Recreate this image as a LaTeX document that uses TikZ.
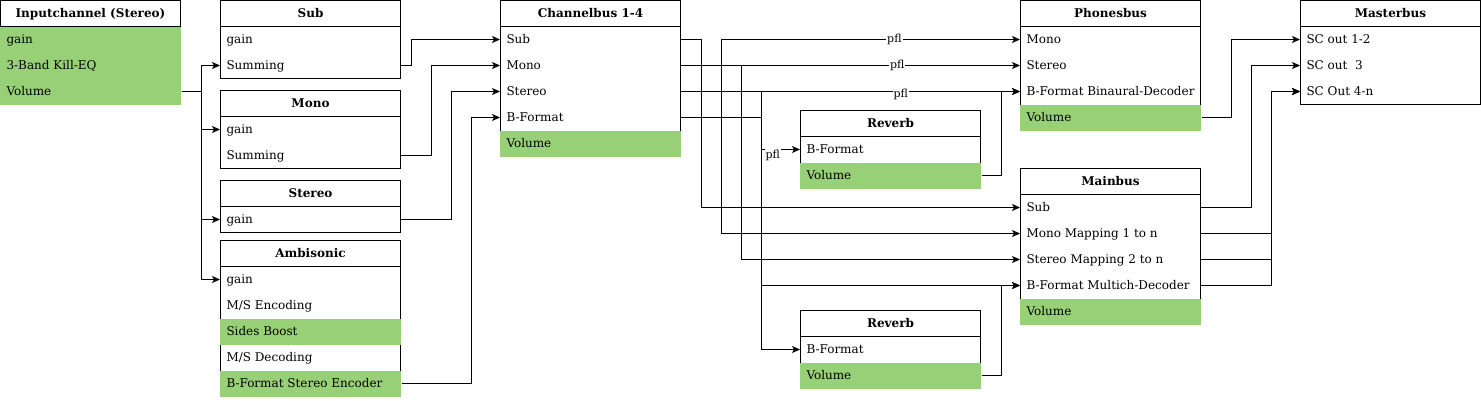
\documentclass[tikz,border=0pt]{standalone}
\usepackage{fontspec}
\setmainfont{DejaVu Serif}
\usetikzlibrary{arrows.meta}
\definecolor{volgreen}{HTML}{97D077}

\begin{document}
\begin{tikzpicture}[x=1pt, y=-1pt, line width=1pt,
  head/.style={draw, anchor=north west, minimum width=180pt, minimum height=26pt,
    inner sep=0pt, font=\fontsize{12}{14}\selectfont\bfseries, text height=8.8pt, text depth=0pt},
  row/.style={anchor=north west, minimum height=26pt, inner sep=0pt, inner xsep=6pt,
    execute at begin node={\hbox to 168pt\bgroup}, execute at end node={\hfil\egroup},
    font=\fontsize{12}{14}\selectfont, text height=8.8pt, text depth=0pt},
  vol/.style={row, fill=volgreen, minimum width=181pt, xshift=-0.5pt},
  box/.style={draw},
  link/.style={-{Stealth[length=8pt, width=7pt, inset=2pt]}},
  pfl/.style={fill=white, inner sep=1pt, font=\fontsize{11}{13}\selectfont}]

\useasboundingbox (0,0) rectangle (1481,400);

% Inputchannel
\node[head] (in) at (0,0) {Inputchannel (Stereo)};
\node[vol] (in-gain) at (0,26) {gain};
\node[vol] (in-eq) at (0,52) {3-Band Kill-EQ};
\node[vol] (in-vol) at (0,78) {Volume};

% Sub
\draw[box] (220,0) rectangle (400,78);
\node[head] (sub) at (220,0) {Sub};
\node[row] (sub-gain) at (220,26) {gain};
\node[row] (sub-sum) at (220,52) {Summing};

% Mono
\draw[box] (220,90) rectangle (400,168);
\node[head] (mono) at (220,90) {Mono};
\node[row] (mono-gain) at (220,116) {gain};
\node[row] (mono-sum) at (220,142) {Summing};

% Stereo
\draw[box] (220,180) rectangle (400,232);
\node[head] (stereo) at (220,180) {Stereo};
\node[row] (st-gain) at (220,206) {gain};

% Ambisonic
\draw[box] (220,240) rectangle (400,396);
\node[head] (amb) at (220,240) {Ambisonic};
\node[row] (amb-gain) at (220,266) {gain};
\node[row] (amb-msenc) at (220,292) {M/S Encoding};
\node[vol] (amb-boost) at (220,318) {Sides Boost};
\node[row] (amb-msdec) at (220,344) {M/S Decoding};
\node[vol] (amb-enc) at (220,370) {B-Format Stereo Encoder};

% Channelbus
\draw[box] (500,0) rectangle (680,156);
\node[head] (cb) at (500,0) {Channelbus 1-4};
\node[row] (cb-sub) at (500,26) {Sub};
\node[row] (cb-mono) at (500,52) {Mono};
\node[row] (cb-st) at (500,78) {Stereo};
\node[row] (cb-bf) at (500,104) {B-Format};
\node[vol] (cb-vol) at (500,130) {Volume};

% Reverb (pfl)
\draw[box] (800,110) rectangle (980,188);
\node[head] (rv1) at (800,110) {Reverb};
\node[row] (rv1-bf) at (800,136) {B-Format};
\node[vol] (rv1-vol) at (800,162) {Volume};

% Reverb (main)
\draw[box] (800,310) rectangle (980,388);
\node[head] (rv2) at (800,310) {Reverb};
\node[row] (rv2-bf) at (800,336) {B-Format};
\node[vol] (rv2-vol) at (800,362) {Volume};

% Phonesbus
\draw[box] (1020,0) rectangle (1200,130);
\node[head] (ph) at (1020,0) {Phonesbus};
\node[row] (ph-mono) at (1020,26) {Mono};
\node[row] (ph-st) at (1020,52) {Stereo};
\node[row] (ph-bf) at (1020,78) {B-Format Binaural-Decoder};
\node[vol] (ph-vol) at (1020,104) {Volume};

% Mainbus
\draw[box] (1020,168) rectangle (1200,324);
\node[head] (mb) at (1020,168) {Mainbus};
\node[row] (mb-sub) at (1020,194) {Sub};
\node[row] (mb-mono) at (1020,220) {Mono Mapping 1 to n};
\node[row] (mb-st) at (1020,246) {Stereo Mapping 2 to n};
\node[row] (mb-bf) at (1020,272) {B-Format Multich-Decoder};
\node[vol] (mb-vol) at (1020,298) {Volume};

% Masterbus
\draw[box] (1300,0) rectangle (1480,104);
\node[head] (ma) at (1300,0) {Masterbus};
\node[row] (ma-12) at (1300,26) {SC out 1-2};
\node[row] (ma-3) at (1300,52) {SC out\ \ 3};
\node[row] (ma-4n) at (1300,78) {SC Out 4-n};

% Input to groups
\draw[link] (in-vol.east) -- ++(20,0) |- (sub-sum.west);
\draw[link] (in-vol.east) -- ++(20,0) |- (mono-gain.west);
\draw[link] (in-vol.east) -- ++(20,0) |- (st-gain.west);
\draw[link] (in-vol.east) -- ++(20,0) |- (amb-gain.west);

% Groups to channelbus
\draw[link] (sub-sum.east) -- ++(10,0) |- (cb-sub.west);
\draw[link] (mono-sum.east) -- ++(30,0) |- (cb-mono.west);
\draw[link] (st-gain.east) -- ++(50,0) |- (cb-st.west);
\draw[link] (amb-enc.east) -- ++(70,0) |- (cb-bf.west);

% Channelbus to buses
\draw (cb-mono.east) -- ++(60,0);
\draw (cb-st.east) -- ++(80,0);
\draw[link] (cb-sub.east) -- ++(20,0) |- (mb-sub.west);
\draw[link] (cb-mono.east) -- ++(40,0) |- node[pfl, pos=0.79] {pfl} (ph-mono.west);
\draw[link] (cb-mono.east) -- ++(40,0) |- (mb-mono.west);
\draw[link] (cb-st.east) -- ++(60,0) |- node[pfl, pos=0.78] {pfl} (ph-st.west);
\draw[link] (cb-st.east) -- ++(60,0) |- (mb-st.west);
\draw[link] (cb-bf.east) -- ++(80,0) |- node[pfl, pos=0.77, yshift=-3pt] {pfl} (ph-bf.west);
\draw[link] (cb-bf.east) -- ++(80,0) |- node[pfl, pos=0.65, yshift=-6pt] {pfl} (rv1-bf.west);
\draw[link] (cb-bf.east) -- ++(80,0) |- (mb-bf.west);
\draw[link] (cb-bf.east) -- ++(80,0) |- (rv2-bf.west);

% Reverb returns
\draw[link] (rv1-vol.east) -- ++(20,0) |- (ph-bf.west);
\draw[link] (rv2-vol.east) -- ++(20,0) |- (mb-bf.west);

% Buses to master
\draw[link] (ph-vol.east) -- ++(30,0) |- (ma-12.west);
\draw[link] (mb-sub.east) -- ++(50,0) |- (ma-3.west);
\draw[link] (mb-mono.east) -- ++(70,0) |- (ma-4n.west);
\draw[link] (mb-st.east) -- ++(70,0) |- (ma-4n.west);
\draw[link] (mb-bf.east) -- ++(70,0) |- (ma-4n.west);

\end{tikzpicture}
\end{document}
